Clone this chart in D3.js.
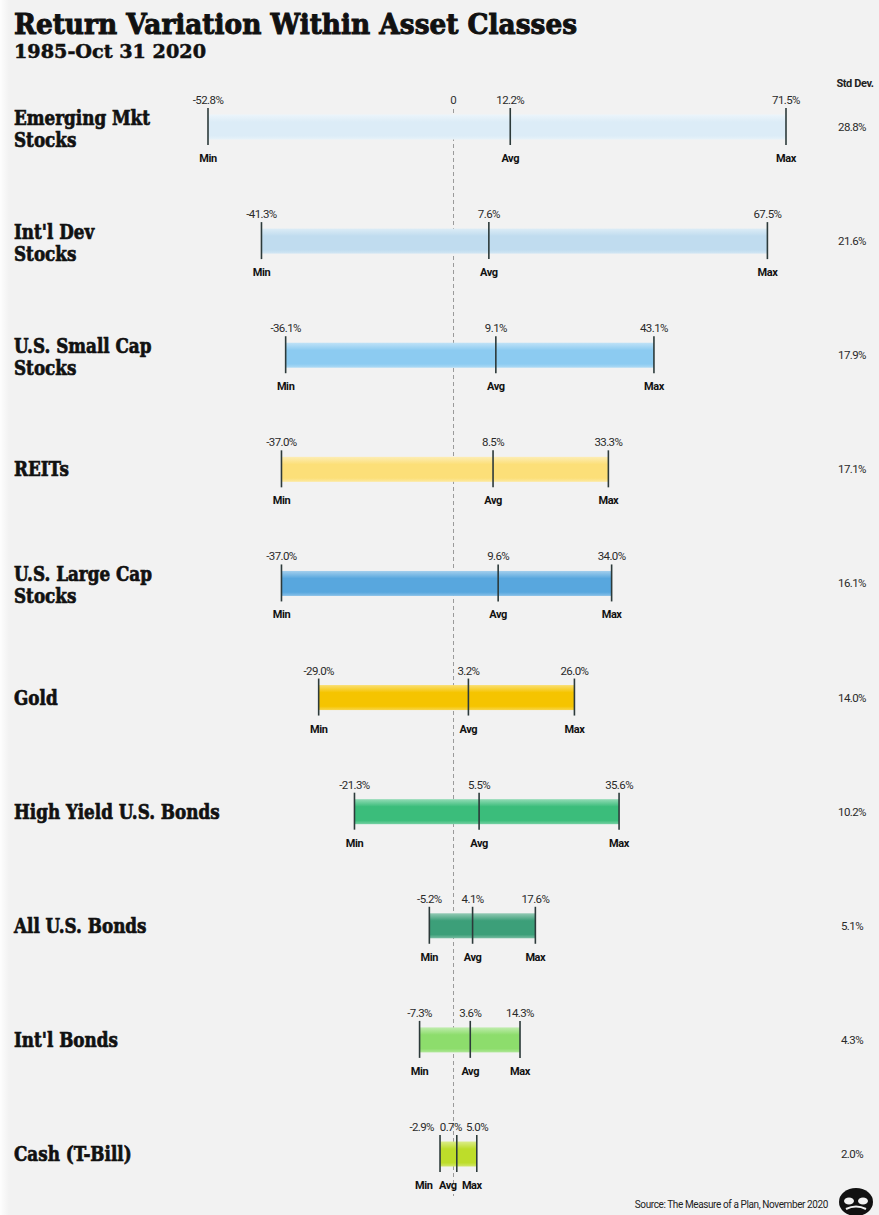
<!DOCTYPE html>
<html>
<head>
<meta charset="utf-8">
<script src="https://cdn.jsdelivr.net/npm/d3@7/dist/d3.min.js"></script>
<style>
  html, body { margin: 0; padding: 0; background: #f2f2f2; }
  svg { display: block; }
</style>
</head>
<body>
<div id="chart"></div>
<script>
// Annual return ranges by asset class, 1985 - Oct 31 2020
const categories = [
  ["Emerging Mkt", "Stocks"],
  ["Int'l Dev", "Stocks"],
  ["U.S. Small Cap", "Stocks"],
  ["REITs"],
  ["U.S. Large Cap", "Stocks"],
  ["Gold"],
  ["High Yield U.S. Bonds"],
  ["All U.S. Bonds"],
  ["Int'l Bonds"],
  ["Cash (T-Bill)"]
];
const minReturns = [-52.8, -41.3, -36.1, -37.0, -37.0, -29.0, -21.3, -5.2, -7.3, -2.9];
const avgReturns = [12.2, 7.6, 9.1, 8.5, 9.6, 3.2, 5.5, 4.1, 3.6, 0.7];
const maxReturns = [71.5, 67.5, 43.1, 33.3, 34.0, 26.0, 35.6, 17.6, 14.3, 5.0];
const stdDevs = [28.8, 21.6, 17.9, 17.1, 16.1, 14.0, 10.2, 5.1, 4.3, 2.0];
const barColors = ["#dcecf7", "#c0dcef", "#8ccbf1", "#fcdf78", "#58a7de",
                   "#f5c400", "#3bbd7b", "#3c9f79", "#8ddd6c", "#bddd2a"];
const endLabels = ["Min", "Avg", "Max"];

const W = 879, H = 1215;
const svg = d3.select("#chart").append("svg")
  .attr("width", W).attr("height", H)
  .style("background", "#f2f2f2");

const defs = svg.append("defs");

// faint paper edge on the left side
const edge = defs.append("linearGradient").attr("id", "edge")
  .attr("x1", 0).attr("x2", 1).attr("y1", 0).attr("y2", 0);
edge.append("stop").attr("offset", 0).attr("stop-color", "#ffffff").attr("stop-opacity", 0.9);
edge.append("stop").attr("offset", 1).attr("stop-color", "#ffffff").attr("stop-opacity", 0);
svg.append("rect").attr("x", 0).attr("y", 0).attr("width", 9).attr("height", H)
  .attr("fill", "url(#edge)");

const x = d3.scaleLinear().domain([-52.8, 71.5]).range([208, 786]);
const y = d3.scalePoint().domain(d3.range(categories.length)).range([127, 1154]);

const serif = "'DejaVu Serif', 'Liberation Serif', serif";
const sans = "Roboto, 'Liberation Sans', Arial, sans-serif";

// Title block (stroked to get a heavier face)
svg.append("text")
  .attr("x", 14).attr("y", 34)
  .attr("font-family", serif).attr("font-weight", 900).attr("font-size", 28)
  .attr("fill", "#111").attr("stroke", "#111").attr("stroke-width", 1)
  .attr("textLength", 563).attr("lengthAdjust", "spacingAndGlyphs")
  .text("Return Variation Within Asset Classes");
svg.append("text")
  .attr("x", 14).attr("y", 58)
  .attr("font-family", serif).attr("font-weight", 700).attr("font-size", 18)
  .attr("fill", "#111").attr("stroke", "#111").attr("stroke-width", 0.5)
  .attr("textLength", 192).attr("lengthAdjust", "spacingAndGlyphs")
  .text("1985-Oct 31 2020");

svg.append("text")
  .attr("x", 855).attr("y", 87)
  .attr("text-anchor", "middle")
  .attr("font-family", sans).attr("font-weight", 700).attr("font-size", 11)
  .attr("letter-spacing", -0.4)
  .attr("fill", "#222")
  .text("Std Dev.");

// Zero reference line
svg.append("line")
  .attr("x1", x(0)).attr("x2", x(0))
  .attr("y1", y(0) - 18).attr("y2", y(categories.length - 1) + 42)
  .attr("stroke", "#9a9a9a").attr("stroke-width", 1)
  .attr("stroke-dasharray", "4,3");
svg.append("text")
  .attr("x", x(0)).attr("y", y(0) - 23)
  .attr("text-anchor", "middle")
  .attr("font-family", sans).attr("font-size", 11.5).attr("fill", "#333")
  .text("0");

// Category labels, squeezed to a condensed look
const labelG = svg.append("g").attr("transform", "translate(14,0)");
const labelScale = 0.84;
categories.forEach((lines, i) => {
  const cy = y(i);
  const base = lines.length === 1 ? [cy + 7] : [cy - 2, cy + 20];
  lines.forEach((ln, j) => {
    labelG.append("text")
      .attr("transform", `translate(0,${base[j]}) scale(${labelScale},1)`)
      .attr("font-family", serif).attr("font-weight", 700).attr("font-size", 20)
      .attr("fill", "#111").attr("stroke", "#111").attr("stroke-width", 0.7)
      .text(ln);
  });
});

// Bars
const barH = 25;
const rows = svg.append("g");
categories.forEach((_, i) => {
  const cy = y(i);
  const col = d3.color(barColors[i]);
  const gid = "bar" + i;
  const g = defs.append("linearGradient").attr("id", gid)
    .attr("x1", 0).attr("x2", 0).attr("y1", 0).attr("y2", 1);
  g.append("stop").attr("offset", 0).attr("stop-color", d3.interpolateRgb(col, "#ffffff")(0.45));
  g.append("stop").attr("offset", 0.3).attr("stop-color", col.formatHex());
  g.append("stop").attr("offset", 0.85).attr("stop-color", col.formatHex());
  g.append("stop").attr("offset", 1).attr("stop-color", d3.interpolateRgb(col, "#ffffff")(0.3));

  rows.append("rect")
    .attr("x", x(minReturns[i])).attr("y", cy - barH / 2)
    .attr("width", x(maxReturns[i]) - x(minReturns[i])).attr("height", barH)
    .attr("fill", `url(#${gid})`);

  const vals = [minReturns[i], avgReturns[i], maxReturns[i]];
  vals.forEach(v => {
    rows.append("line")
      .attr("x1", x(v)).attr("x2", x(v))
      .attr("y1", cy - 19).attr("y2", cy + 18)
      .attr("stroke", "#2c3a3a").attr("stroke-width", 1.6);
  });

  // label positions: centred on the tick, spread apart when crowded
  const valTexts = vals.map(v => v.toFixed(1) + "%");
  const place = (texts, widthOf) => {
    const centers = vals.map(v => x(v));
    const widths = texts.map(widthOf);
    const gap = 3;
    let crowded = false;
    for (let k = 1; k < centers.length; k++) {
      if (centers[k] - widths[k] / 2 < centers[k - 1] + widths[k - 1] / 2 + gap) crowded = true;
    }
    if (!crowded) return centers;
    const total = d3.sum(widths) + gap * (widths.length - 1);
    let start = d3.mean(centers) - total / 2 - 10;
    return widths.map(w => { const c = start + w / 2; start += w + gap; return c; });
  };

  const vx = place(valTexts, t => t.length * 5.8);
  valTexts.forEach((t, k) => {
    rows.append("text")
      .attr("x", vx[k]).attr("y", cy - 23)
      .attr("text-anchor", "middle")
      .attr("font-family", sans).attr("font-size", 11.5)
      .attr("letter-spacing", -0.6)
      .attr("fill", "#2a2a2a")
      .text(t);
  });

  const lx = place(endLabels, t => t.length * 7);
  endLabels.forEach((t, k) => {
    rows.append("text")
      .attr("x", lx[k]).attr("y", cy + 35)
      .attr("text-anchor", "middle")
      .attr("font-family", sans).attr("font-weight", 700).attr("font-size", 11)
      .attr("letter-spacing", -0.4)
      .attr("fill", "#111")
      .text(t);
  });

  rows.append("text")
    .attr("x", 852).attr("y", cy + 4)
    .attr("text-anchor", "middle")
    .attr("font-family", sans).attr("font-size", 11.5)
    .attr("letter-spacing", -0.6)
    .attr("fill", "#2a2a2a")
    .text(stdDevs[i].toFixed(1) + "%");
});

// Source line
svg.append("text")
  .attr("x", 828).attr("y", 1208)
  .attr("text-anchor", "end")
  .attr("font-family", sans).attr("font-size", 10)
  .attr("letter-spacing", -0.4)
  .attr("fill", "#222")
  .text("Source: The Measure of a Plan, November 2020");

// publisher mark
const logo = svg.append("g").attr("transform", "translate(856,1202)");
logo.append("ellipse").attr("rx", 17).attr("ry", 14).attr("fill", "#111");
logo.append("ellipse").attr("cx", -7).attr("cy", -1).attr("rx", 5).attr("ry", 3.5).attr("fill", "#f2f2f2");
logo.append("ellipse").attr("cx", 7).attr("cy", -1).attr("rx", 5).attr("ry", 3.5).attr("fill", "#f2f2f2");
logo.append("path").attr("d", "M-10,7 Q0,2 10,7").attr("stroke", "#f2f2f2").attr("stroke-width", 2).attr("fill", "none");
</script>
</body>
</html>
